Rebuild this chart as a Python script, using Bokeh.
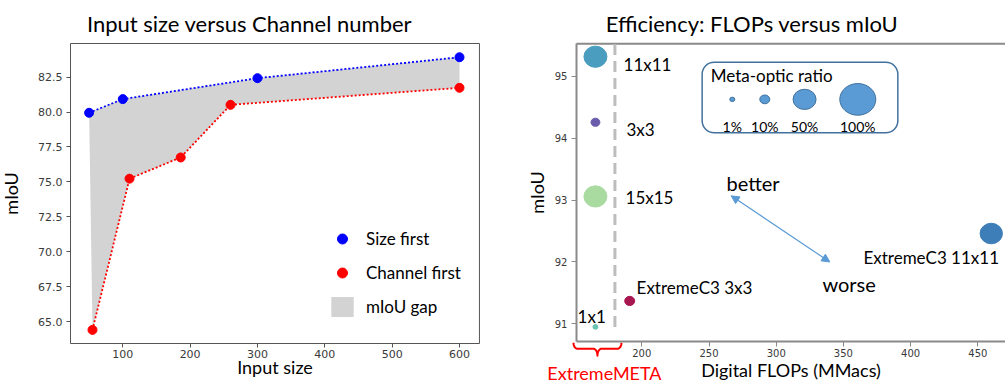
import numpy as np
from bokeh.plotting import figure
from bokeh.layouts import row
from bokeh.models import (ColumnDataSource, Range1d, FixedTicker, NumeralTickFormatter, Legend,
                          LegendItem, Arrow, NormalHead, BoxAnnotation, Label)
from bokeh.core.properties import value
from bokeh.embed import file_html
from bokeh.resources import INLINE

# ---------------- data: left chart ----------------
size_first_input = [50, 100, 300, 600]
size_first_miou = [79.95, 80.93, 82.43, 83.93]
channel_first_input = [55, 110, 186, 260, 600]
channel_first_miou = [64.4, 75.23, 76.75, 80.52, 81.74]
left_x_ticks = [100, 200, 300, 400, 500, 600]
left_y_ticks = [65.0, 67.5, 70.0, 72.5, 75.0, 77.5, 80.0, 82.5]

# ---------------- data: right chart ----------------
model_names = ["11x11", "3x3", "15x15", "1x1", "ExtremeC3 3x3", "ExtremeC3 11x11"]
model_flops = [165.5, 165.5, 165.5, 165.5, 191.0, 460.0]
model_miou = [95.32, 94.26, 93.06, 90.95, 91.37, 92.46]
model_ratio = [50, 8, 50, 1, 10, 48]
ratio_levels = [1, 10, 50, 100]
ratio_labels = ["1%", "10%", "50%", "100%"]
right_x_ticks = [200, 250, 300, 350, 400, 450]
right_y_ticks = [91, 92, 93, 94, 95]
meta_divider_flops = 180
meta_group = "ExtremeMETA"

# ---------------- styles ----------------
FONT = "Lato"
TICK_FONT = "DejaVu Sans"
level_diam_px = [5, 10, 23, 36]
model_colors = ["#4A9DBE", "#6A5BAB", "#A9DBA1", "#66C3AF", "#A8164F", "#3D7EB9"]
label_x = [186.4, 188.6, 187.9, 152.2, 196.1, 364.9]
label_y = [95.19, 94.14, 93.04, 91.12, 91.59, 92.07]


def style_axis(ax, line_color, tick_size, label_size, tick_out, line_width):
    ax.axis_line_color = line_color
    ax.axis_line_width = line_width
    ax.major_tick_line_color = line_color
    ax.major_tick_line_width = 1
    ax.minor_tick_line_color = None
    ax.major_tick_in = 0
    ax.major_tick_out = tick_out
    ax.major_label_text_font = TICK_FONT
    ax.major_label_text_font_size = tick_size
    ax.major_label_text_color = "#3A3A3A"
    ax.axis_label_text_font = FONT
    ax.axis_label_text_font_size = label_size
    ax.axis_label_text_font_style = "normal"
    ax.axis_label_text_color = "#000000"


def style_title(p, text):
    p.title.text = text
    p.title.align = "center"
    p.title.text_font = FONT
    p.title.text_font_size = "22px"
    p.title.text_font_style = "normal"
    p.title.text_color = "#000000"
    p.title.standoff = 10


# Both figures use a frame that fills everything below the title; the axes are
# pinned (fixed_location + bounds) to the visible plot box, so marks and labels
# that sit under the axis are drawn inside the frame.

# =============== left figure ===============
LX0, LX1 = 22.3, 629.6        # visible box, input size
LY0, LY1 = 63.424, 84.914     # visible box, mIoU
p1 = figure(width=498, height=386, x_range=Range1d(-81.6, 657.9), y_range=Range1d(60.344, 85.057),
            output_backend="svg", toolbar_location=None,
            min_border_left=0, min_border_right=0, min_border_top=41, min_border_bottom=0)
style_title(p1, "Input size versus Channel number")
p1.xgrid.visible = False
p1.ygrid.visible = False
p1.outline_line_color = None
style_axis(p1.xaxis[0], "#555555", "11px", "18px", 4, 1)
style_axis(p1.yaxis[0], "#555555", "11px", "18px", 4, 1)
p1.xaxis.fixed_location = LY0
p1.yaxis.fixed_location = LX0
p1.xaxis.bounds = (LX0, LX1)
p1.yaxis.bounds = (LY0, LY1)
p1.xaxis.ticker = FixedTicker(ticks=left_x_ticks)
p1.yaxis.ticker = FixedTicker(ticks=left_y_ticks)
p1.yaxis.formatter = NumeralTickFormatter(format="0.0")
p1.xaxis.axis_label = "Input size"
p1.yaxis.axis_label = "mIoU"
p1.xaxis.major_label_standoff = 2
p1.yaxis.major_label_standoff = 4
p1.xaxis.axis_label_standoff = -5
p1.yaxis.axis_label_standoff = 13
p1.segment(x0=[LX0, LX1], y0=[LY1, LY0], x1=[LX1, LX1], y1=[LY1, LY1], line_color="#555555", line_width=1)

gap_x = size_first_input + channel_first_input[::-1]
gap_y = size_first_miou + channel_first_miou[::-1]
r_gap = p1.patch(gap_x, gap_y, fill_color="#D3D3D3", line_color=None)
p1.line(size_first_input, size_first_miou, line_color="#0000FF", line_width=1.8, line_dash="2 2")
p1.line(channel_first_input, channel_first_miou, line_color="#FF0000", line_width=1.8, line_dash="2 2")
r_size = p1.scatter(size_first_input, size_first_miou, size=9, fill_color="#0000FF", line_color="#0000FF")
r_chan = p1.scatter(channel_first_input, channel_first_miou, size=9, fill_color="#FF0000", line_color="#FF0000")

legend = Legend(items=[LegendItem(label="Size first", renderers=[r_size]),
                       LegendItem(label="Channel first", renderers=[r_chan]),
                       LegendItem(label="mIoU gap", renderers=[r_gap])],
                location=(328, 67), padding=0, margin=0, spacing=9,
                glyph_width=28, glyph_height=25, label_standoff=10,
                label_text_font=FONT, label_text_font_size="17px", label_text_color="#000000",
                border_line_alpha=0, background_fill_alpha=0)
p1.add_layout(legend, "center")

# =============== right figure ===============
X0, X1 = 151.4, 470.6         # visible box, FLOPs
Y0, Y1 = 90.71, 95.53         # visible box, mIoU
p2 = figure(width=507, height=386, x_range=Range1d(93.38, 470.6), y_range=Range1d(89.986, 95.566),
            output_backend="svg", toolbar_location=None,
            min_border_left=0, min_border_right=0, min_border_top=41, min_border_bottom=0)
style_title(p2, "Efficiency: FLOPs versus mIoU")
p2.xgrid.visible = False
p2.ygrid.visible = False
p2.outline_line_color = None
style_axis(p2.xaxis[0], "#8A8A8A", "10px", "18px", 5, 2)
style_axis(p2.yaxis[0], "#8A8A8A", "10px", "18px", 5, 2)
p2.xaxis.fixed_location = Y0
p2.yaxis.fixed_location = X0
p2.xaxis.bounds = (X0, X1)
p2.yaxis.bounds = (Y0, Y1)
p2.xaxis.ticker = FixedTicker(ticks=right_x_ticks)
p2.yaxis.ticker = FixedTicker(ticks=right_y_ticks)
p2.xaxis.axis_label = "Digital FLOPs (MMacs)"
p2.yaxis.axis_label = "mIoU"
p2.xaxis.major_label_standoff = 2
p2.yaxis.major_label_standoff = 4
p2.xaxis.axis_label_standoff = -1
p2.yaxis.axis_label_standoff = 4

# top spine
p2.segment(x0=[X0], y0=[Y1], x1=[X1], y1=[Y1], line_color="#8A8A8A", line_width=2)

# divider between ExtremeMETA and ExtremeC3
p2.segment(x0=[meta_divider_flops], y0=[min(model_miou)], x1=[meta_divider_flops], y1=[Y1],
           line_color="#BDBDBD", line_width=3, line_dash="11 6")

diam = np.interp(model_ratio, ratio_levels, level_diam_px)
src = ColumnDataSource(dict(x=model_flops, y=model_miou, name=model_names, color=model_colors,
                            w=diam, h=diam * 0.92, lx=label_x, ly=label_y))
p2.ellipse(x="x", y="y", width="w", height="h", width_units="screen", height_units="screen",
           fill_color="color", line_color="color", source=src)
p2.text(x="lx", y="ly", text="name", source=src, text_font=value(FONT), text_font_size=value("17px"),
        text_align="left", text_baseline="middle", text_color="#000000")

# size legend box
p2.add_layout(BoxAnnotation(left=244.9, right=390.5, top=95.23, bottom=94.09, fill_alpha=0,
                            line_color="#41719C", line_alpha=1.0, line_width=1.5, border_radius=12))
leg_x = [267.3, 291.5, 321.1, 360.7]
leg_d = np.array(level_diam_px, dtype=float)
lsrc = ColumnDataSource(dict(x=leg_x, y=[94.63] * 4, w=leg_d, h=leg_d * 0.88,
                             t=ratio_labels, ty=[94.19] * 4))
p2.ellipse(x="x", y="y", width="w", height="h", width_units="screen", height_units="screen",
           fill_color="#5B9BD5", line_color="#41719C", line_width=1, source=lsrc)
p2.text(x="x", y="ty", text="t", source=lsrc, text_font=value(FONT), text_font_size=value("14px"),
        text_align="center", text_baseline="middle", text_color="#000000")
p2.add_layout(Label(x=296.6, y=95.02, text="Meta-optic ratio", text_font=FONT, text_font_size="17px",
                    text_color="#000000", text_align="center", text_baseline="middle"))

# better / worse arrow
head = dict(size=8, fill_color="#5B9BD5", line_color="#5B9BD5")
p2.add_layout(Arrow(start=NormalHead(**head), end=NormalHead(**head),
                    x_start=266.5, y_start=93.07, x_end=339.9, y_end=92.0,
                    line_color="#5B9BD5", line_width=1.2))
p2.add_layout(Label(x=263.0, y=93.27, text="better", text_font=FONT, text_font_size="20px",
                    text_color="#000000", text_align="left", text_baseline="middle"))
p2.add_layout(Label(x=334.4, y=91.64, text="worse", text_font=FONT, text_font_size="20px",
                    text_color="#000000", text_align="left", text_baseline="middle"))

# brace under the ExtremeMETA group
ppx = 507 / (470.6 - 93.38)
ppy = (386 - 41) / (95.566 - 89.986)
xc = float(np.mean([f for f, n in zip(model_flops, model_names) if "Extreme" not in n])) + 1.5
pts = []
t = np.linspace(np.pi, np.pi / 2, 10)
pts += list(zip(-20 + 4 * np.cos(t), 1 + 6 * np.sin(t)))
t = np.linspace(-np.pi / 2, 0, 10)
pts += list(zip(-4 + 4 * np.cos(t), 14 + 7 * np.sin(t)))
t = np.linspace(np.pi, 1.5 * np.pi, 10)
pts += list(zip(4 + 4 * np.cos(t), 14 + 7 * np.sin(t)))
t = np.linspace(np.pi / 2, 0, 10)
pts += list(zip(20 + 4 * np.cos(t), 1 + 6 * np.sin(t)))
bx = [xc + dx / ppx for dx, dy in pts]
by = [Y0 - dy / ppy for dx, dy in pts]
p2.line(bx, by, line_color="#FF0000", line_width=2, line_join="round")
p2.add_layout(Label(x=xc + 7 / ppx, y=Y0 - 31 / ppy, text=meta_group, text_font=FONT,
                    text_font_size="18px", text_color="#FF0000",
                    text_align="center", text_baseline="middle"))

layout = row(p1, p2)
open("out.html", "w").write(file_html(layout, INLINE))
